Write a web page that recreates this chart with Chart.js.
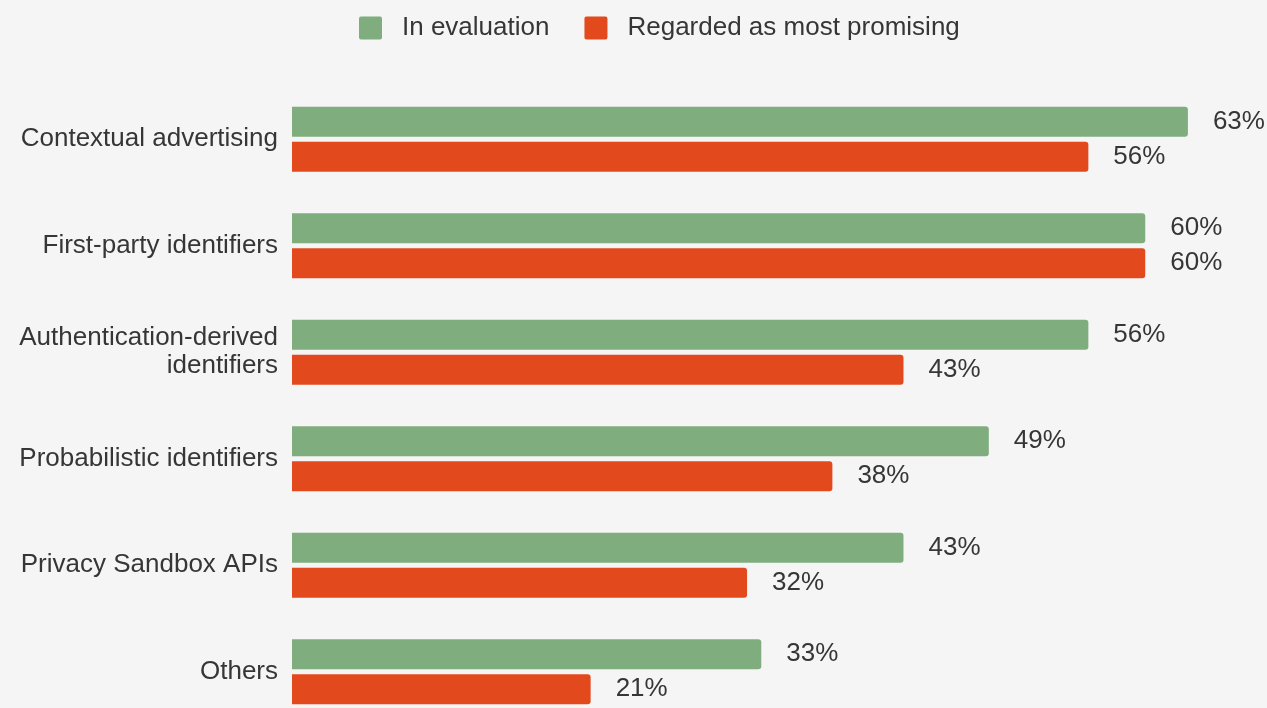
<!DOCTYPE html>
<html>
<head>
<meta charset="utf-8">
<script src="https://cdn.jsdelivr.net/npm/chart.js@4.4.1/dist/chart.umd.min.js"></script>
<style>
  html, body { margin: 0; padding: 0; background: #f5f5f5; overflow: hidden; }
  #wrap { width: 1267px; height: 708px; overflow: hidden; position: relative; }
  canvas { display: block; }
</style>
</head>
<body>
<div id="wrap"><canvas id="c" width="1267" height="745"></canvas></div>
<script>
const categories = [
  'Contextual advertising',
  'First-party identifiers',
  ['Authentication-derived', 'identifiers'],
  'Probabilistic identifiers',
  'Privacy Sandbox APIs',
  'Others'
];
const seriesNames = ['In evaluation', 'Regarded as most promising'];
const inEvaluation = [63, 60, 56, 49, 43, 33];
const mostPromising = [56, 60, 43, 38, 32, 21];
const valueSuffix = '%';

const GREEN = '#80ad7e';
const RED = '#e2491d';
const TEXT = '#363636';
const FONT = '"Liberation Sans", Arial, Helvetica, sans-serif';
const FS = 26;

const bgPlugin = {
  id: 'bg',
  beforeDraw(chart) {
    const ctx = chart.ctx;
    ctx.save();
    ctx.fillStyle = '#f5f5f5';
    ctx.fillRect(0, 0, chart.width, chart.height);
    ctx.restore();
  }
};

const valueLabels = {
  id: 'valueLabels',
  afterDatasetsDraw(chart) {
    const ctx = chart.ctx;
    ctx.save();
    ctx.font = FS + 'px ' + FONT;
    ctx.fillStyle = TEXT;
    ctx.textAlign = 'left';
    ctx.textBaseline = 'middle';
    chart.data.datasets.forEach((ds, di) => {
      const meta = chart.getDatasetMeta(di);
      meta.data.forEach((bar, i) => {
        ctx.fillText(ds.data[i] + valueSuffix, bar.x + 25, bar.y);
      });
    });
    ctx.restore();
  }
};

const customLegend = {
  id: 'customLegend',
  afterDraw(chart) {
    const ctx = chart.ctx;
    ctx.save();
    ctx.font = FS + 'px ' + FONT;
    ctx.textBaseline = 'middle';
    ctx.textAlign = 'left';
    const box = 23, gap = 20, itemGap = 35, cy = 28;
    const items = chart.data.datasets.map(ds => ({ text: ds.label, color: ds.backgroundColor }));
    let x = 359;
    items.forEach(it => {
      ctx.fillStyle = it.color;
      ctx.beginPath();
      ctx.roundRect(x, cy - box / 2, box, box, 2);
      ctx.fill();
      ctx.fillStyle = TEXT;
      ctx.fillText(it.text, x + box + gap, cy);
      x += box + gap + ctx.measureText(it.text).width + itemGap;
    });
    ctx.restore();
  }
};

new Chart(document.getElementById('c'), {
  type: 'bar',
  data: {
    labels: categories,
    datasets: [
      { label: seriesNames[0], data: inEvaluation, backgroundColor: GREEN },
      { label: seriesNames[1], data: mostPromising, backgroundColor: RED }
    ]
  },
  options: {
    indexAxis: 'y',
    responsive: false,
    animation: false,
    devicePixelRatio: 1,
    categoryPercentage: 0.658,
    barPercentage: 0.857,
    borderRadius: { topLeft: 0, bottomLeft: 0, topRight: 3, bottomRight: 3 },
    borderSkipped: 'start',
    layout: { padding: { top: 86, bottom: 2, left: 0, right: 8 } },
    plugins: {
      legend: { display: false },
      tooltip: { enabled: false }
    },
    scales: {
      x: {
        display: false,
        min: 0,
        max: 68
      },
      y: {
        grid: { display: false },
        border: { display: false },
        afterFit(scale) { scale.width = 292; },
        ticks: {
          color: TEXT,
          padding: 6,
          font: { family: FONT, size: FS, lineHeight: 1.08 }
        }
      }
    }
  },
  plugins: [bgPlugin, valueLabels, customLegend]
});
</script>
</body>
</html>
